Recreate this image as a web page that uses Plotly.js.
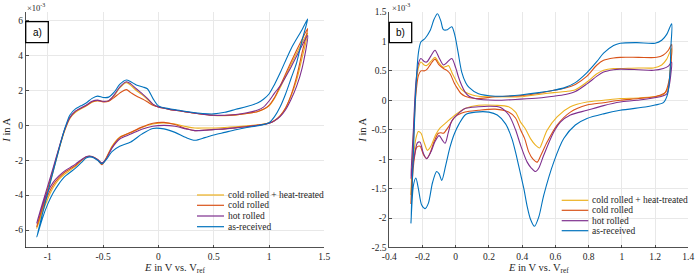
<!DOCTYPE html>
<html>
<head>
<meta charset="utf-8">
<script src="https://cdn.plot.ly/plotly-3.0.1.min.js"></script>
<style>html,body{margin:0;padding:0;background:#fff;}#chart{width:695px;height:275px;}</style>
</head>
<body>
<div id="chart"></div>
<script>
// ---------- DATA (current I in units of 1e-3 A, potential E in V vs. Vref) ----------
const seriesNames  = ['cold rolled + heat-treated', 'cold rolled', 'hot rolled', 'as-received'];
const seriesColors = ['#EDB120', '#D95319', '#7E2F8E', '#0072BD'];

// Panel a) – common potential grid (forward sweep then reverse sweep)
const aE = [-1.10,-1.05,-1.00,-0.95,-0.90,-0.85,-0.80,-0.75,-0.70,-0.65,-0.60,-0.55,-0.50,-0.45,-0.40,-0.35,-0.29,-0.25,-0.20,-0.14,-0.10,-0.05,0.00,0.10,0.20,0.30,0.40,0.50,0.60,0.70,0.80,0.90,0.95,1.00,1.05,1.10,1.20,1.30,1.35,
            1.30,1.25,1.20,1.15,1.10,1.05,1.00,0.90,0.80,0.70,0.60,0.50,0.42,0.33,0.25,0.15,0.05,-0.05,-0.15,-0.25,-0.35,-0.42,-0.47,-0.51,-0.55,-0.60,-0.65,-0.70,-0.75,-0.80,-0.85,-0.90,-0.95,-1.00,-1.05,-1.10];
const aHeatTreatedI = [-5.9,-4.8,-3.7,-2.6,-1.4,-0.35,0.4,0.75,0.95,1.12,1.33,1.42,1.37,1.4,1.7,2.15,2.45,2.3,2.0,1.72,1.5,1.2,1.05,0.92,0.82,0.72,0.64,0.57,0.56,0.6,0.68,0.8,0.92,1.12,1.55,2.15,3.5,4.75,5.3,
            3.9,2.6,1.7,1.0,0.55,0.27,0.13,0.03,-0.03,-0.08,-0.12,-0.15,-0.15,-0.15,-0.07,0.08,0.14,0.08,-0.12,-0.42,-0.68,-1.2,-1.85,-2.18,-1.95,-1.78,-1.8,-2.05,-2.35,-2.58,-2.8,-3.1,-3.55,-4.2,-5.0,-5.9];
const aColdRolledI = [-5.8,-4.7,-3.6,-2.5,-1.35,-0.3,0.45,0.8,0.98,1.15,1.35,1.42,1.35,1.38,1.6,1.85,2.05,1.88,1.68,1.5,1.35,1.15,1.05,0.92,0.82,0.72,0.64,0.58,0.57,0.6,0.68,0.8,0.92,1.15,1.6,2.25,3.65,4.95,5.55,
            4.2,2.8,1.75,1.0,0.55,0.28,0.13,0.02,-0.06,-0.13,-0.2,-0.23,-0.27,-0.3,-0.18,0.05,0.17,0.12,-0.1,-0.4,-0.7,-1.25,-1.85,-2.25,-1.98,-1.8,-1.8,-2.02,-2.3,-2.5,-2.7,-3.0,-3.4,-4.0,-4.8,-5.8];
const aHotRolledI = [-5.6,-4.5,-3.45,-2.4,-1.3,-0.28,0.45,0.82,1.0,1.17,1.38,1.45,1.38,1.42,1.75,2.2,2.5,2.38,2.1,1.78,1.55,1.22,1.05,0.92,0.82,0.72,0.64,0.58,0.58,0.62,0.72,0.88,1.05,1.4,1.85,2.25,3.35,4.6,5.15,
            3.3,2.25,1.5,0.9,0.5,0.26,0.12,0.0,-0.08,-0.14,-0.2,-0.24,-0.28,-0.3,-0.2,-0.05,0.0,-0.05,-0.22,-0.5,-0.78,-1.3,-1.9,-2.15,-1.95,-1.78,-1.78,-1.98,-2.22,-2.42,-2.62,-2.9,-3.25,-3.8,-4.6,-5.6];
const aAsReceivedI = [-6.4,-5.1,-3.85,-2.6,-1.4,-0.25,0.6,0.95,1.12,1.3,1.55,1.68,1.6,1.62,1.9,2.35,2.6,2.5,2.32,2.2,2.1,1.55,1.12,0.95,0.85,0.75,0.68,0.66,0.75,0.92,1.08,1.3,1.5,1.8,2.35,3.0,4.4,5.5,6.1,
            4.9,3.6,2.7,1.8,1.05,0.5,0.15,-0.02,-0.12,-0.25,-0.4,-0.55,-0.7,-0.85,-0.7,-0.4,-0.2,-0.18,-0.5,-0.95,-1.2,-1.5,-1.95,-2.2,-2.0,-1.82,-1.85,-2.15,-2.45,-2.7,-2.95,-3.35,-3.85,-4.5,-5.35,-6.4];

// Panel b) – [E, I] pairs
const bHeatTreated = [[-0.27,-1.6],[-0.255,-0.6],[-0.24,0.2],[-0.225,0.55],[-0.21,0.65],[-0.19,0.6],[-0.175,0.59],[-0.15,0.66],[-0.125,0.73],[-0.1,0.63],[-0.074,0.56],[-0.055,0.58],[-0.044,0.59],[-0.02,0.45],[0.006,0.31],[0.03,0.2],[0.056,0.14],[0.1,0.09],[0.137,0.07],[0.237,0.06],[0.39,0.06],[0.5,0.1],[0.59,0.13],[0.66,0.15],[0.72,0.18],[0.79,0.31],[0.85,0.45],[0.89,0.51],[0.95,0.54],[0.99,0.54],[1.1,0.55],[1.19,0.55],[1.24,0.6],[1.27,0.7],[1.3,0.88],
  [1.29,0.5],[1.28,0.23],[1.25,0.1],[1.19,0.06],[1.1,0.04],[0.99,0.03],[0.89,0.0],[0.79,-0.03],[0.69,-0.11],[0.61,-0.28],[0.55,-0.51],[0.52,-0.72],[0.505,-0.81],[0.48,-0.76],[0.45,-0.65],[0.418,-0.48],[0.39,-0.37],[0.36,-0.2],[0.318,-0.11],[0.237,-0.085],[0.137,-0.085],[0.056,-0.14],[-0.004,-0.25],[-0.054,-0.37],[-0.094,-0.47],[-0.12,-0.58],[-0.15,-0.78],[-0.17,-0.85],[-0.19,-0.72],[-0.209,-0.56],[-0.225,-0.53],[-0.24,-0.65],[-0.25,-0.85],[-0.26,-1.1],[-0.27,-1.6]];
const bColdRolled = [[-0.27,-1.75],[-0.255,-0.7],[-0.24,0.1],[-0.225,0.42],[-0.21,0.5],[-0.19,0.5],[-0.175,0.52],[-0.15,0.62],[-0.125,0.7],[-0.1,0.6],[-0.074,0.54],[-0.05,0.5],[-0.034,0.45],[-0.01,0.3],[0.006,0.22],[0.03,0.12],[0.056,0.07],[0.117,0.03],[0.237,0.06],[0.39,0.08],[0.5,0.12],[0.59,0.17],[0.66,0.21],[0.72,0.27],[0.79,0.41],[0.85,0.6],[0.89,0.68],[0.95,0.72],[0.99,0.73],[1.1,0.73],[1.21,0.73],[1.25,0.77],[1.28,0.85],[1.3,0.95],
  [1.295,0.6],[1.285,0.35],[1.26,0.13],[1.21,0.07],[1.1,0.03],[0.99,0.0],[0.89,-0.04],[0.79,-0.08],[0.69,-0.2],[0.61,-0.42],[0.55,-0.71],[0.51,-0.95],[0.49,-1.05],[0.465,-1.0],[0.44,-0.88],[0.415,-0.65],[0.39,-0.5],[0.36,-0.3],[0.318,-0.2],[0.237,-0.15],[0.137,-0.17],[0.056,-0.2],[-0.004,-0.28],[-0.044,-0.45],[-0.074,-0.56],[-0.09,-0.55],[-0.105,-0.56],[-0.13,-0.7],[-0.155,-0.9],[-0.175,-0.99],[-0.195,-0.92],[-0.215,-0.78],[-0.235,-0.8],[-0.25,-1.0],[-0.26,-1.3],[-0.27,-1.75]];
const bHotRolled = [[-0.27,-1.33],[-0.255,-0.5],[-0.24,0.3],[-0.225,0.62],[-0.21,0.71],[-0.19,0.66],[-0.175,0.65],[-0.15,0.75],[-0.125,0.85],[-0.1,0.72],[-0.074,0.6],[-0.05,0.65],[-0.024,0.71],[0.0,0.55],[0.016,0.4],[0.036,0.25],[0.056,0.14],[0.08,0.07],[0.117,0.03],[0.237,0.0],[0.39,0.02],[0.5,0.04],[0.59,0.07],[0.66,0.1],[0.72,0.15],[0.79,0.28],[0.85,0.41],[0.89,0.48],[0.95,0.52],[0.99,0.53],[1.1,0.52],[1.19,0.51],[1.25,0.54],[1.28,0.58],[1.3,0.65],
  [1.295,0.45],[1.285,0.25],[1.27,0.11],[1.23,0.06],[1.09,0.0],[0.99,-0.03],[0.89,-0.09],[0.79,-0.17],[0.69,-0.25],[0.63,-0.37],[0.59,-0.54],[0.53,-0.93],[0.5,-1.15],[0.48,-1.21],[0.455,-1.15],[0.43,-1.05],[0.39,-0.76],[0.36,-0.5],[0.32,-0.25],[0.27,-0.12],[0.2,-0.1],[0.137,-0.11],[0.056,-0.14],[0.006,-0.25],[-0.024,-0.35],[-0.045,-0.55],[-0.064,-0.73],[-0.08,-0.68],[-0.1,-0.6],[-0.125,-0.7],[-0.15,-0.88],[-0.175,-0.99],[-0.195,-0.9],[-0.215,-0.71],[-0.23,-0.72],[-0.245,-0.88],[-0.258,-1.1],[-0.27,-1.33]];
const bAsReceived = [[-0.27,-2.09],[-0.255,-0.9],[-0.24,0.2],[-0.225,0.8],[-0.21,0.99],[-0.185,1.05],[-0.155,1.18],[-0.13,1.38],[-0.11,1.47],[-0.09,1.35],[-0.074,1.2],[-0.05,1.2],[-0.024,1.25],[-0.005,1.1],[0.015,0.8],[0.036,0.48],[0.06,0.3],[0.08,0.22],[0.137,0.11],[0.237,0.07],[0.33,0.075],[0.39,0.09],[0.5,0.13],[0.59,0.17],[0.66,0.22],[0.72,0.3],[0.79,0.47],[0.85,0.66],[0.89,0.8],[0.95,0.93],[0.99,0.97],[1.09,0.98],[1.2,0.97],[1.24,1.02],[1.27,1.12],[1.3,1.3],
  [1.295,0.9],[1.29,0.48],[1.275,0.1],[1.25,-0.04],[1.2,-0.08],[1.15,-0.11],[0.99,-0.17],[0.89,-0.23],[0.79,-0.31],[0.72,-0.42],[0.65,-0.65],[0.59,-1.05],[0.53,-1.61],[0.5,-1.98],[0.474,-2.14],[0.45,-2.02],[0.43,-1.8],[0.41,-1.5],[0.39,-1.25],[0.378,-1.1],[0.36,-0.88],[0.338,-0.65],[0.3,-0.4],[0.25,-0.25],[0.2,-0.2],[0.12,-0.2],[0.06,-0.24],[0.02,-0.4],[-0.01,-0.58],[-0.035,-0.8],[-0.06,-1.1],[-0.084,-1.36],[-0.1,-1.25],[-0.115,-1.21],[-0.14,-1.4],[-0.165,-1.75],[-0.185,-1.84],[-0.205,-1.78],[-0.225,-1.5],[-0.24,-1.32],[-0.255,-1.45],[-0.27,-2.09]];

// Tick labels
const aXTicks = [-1, -0.5, 0, 0.5, 1, 1.5];
const aXTickText = ['-1', '-0.5', '0', '0.5', '1', '1.5'];
const aYTicks = [-6, -4, -2, 0, 2, 4, 6];
const aYTickText = ['-6', '-4', '-2', '0', '2', '4', '6'];
const bXTicks = [-0.4, -0.2, 0, 0.2, 0.4, 0.6, 0.8, 1, 1.2, 1.4];
const bXTickText = ['-0.4', '-0.2', '0', '0.2', '0.4', '0.6', '0.8', '1', '1.2', '1.4'];
const bYTicks = [-2.5, -2, -1.5, -1, -0.5, 0, 0.5, 1, 1.5];
const bYTickText = ['-2.5', '-2', '-1.5', '-1', '-0.5', '0', '0.5', '1', '1.5'];

// ---------- BUILD ----------
const W = 695, H = 275;
const px = v => v / W, py = v => 1 - v / H;
const SERIF = 'Liberation Serif';
const INK = '#262626';

const aSeries = [aHeatTreatedI, aColdRolledI, aHotRolledI, aAsReceivedI];
const bSeries = [bHeatTreated, bColdRolled, bHotRolled, bAsReceived];

const traces = [];
aSeries.forEach((I, k) => traces.push({
  x: aE, y: I, xaxis: 'x', yaxis: 'y', type: 'scatter', mode: 'lines',
  line: {color: seriesColors[k], width: 1.1, shape: 'spline', smoothing: 0.8},
  name: seriesNames[k], showlegend: false, hoverinfo: 'skip'
}));
bSeries.forEach((pts, k) => traces.push({
  x: pts.map(p => p[0]), y: pts.map(p => p[1]), xaxis: 'x2', yaxis: 'y2', type: 'scatter', mode: 'lines',
  line: {color: seriesColors[k], width: 1.1, shape: 'spline', smoothing: 0.8},
  name: seriesNames[k], showlegend: false, hoverinfo: 'skip'
}));

function axis(extra) {
  return Object.assign({
    showgrid: true, gridcolor: '#e8e8e8', gridwidth: 1, zeroline: false,
    showline: true, linecolor: INK, linewidth: 0.8, mirror: false,
    ticks: 'inside', ticklen: 3, tickcolor: INK, tickwidth: 0.8,
    tickfont: {family: SERIF, size: 9.5, color: INK}, tickmode: 'array',
    automargin: false, fixedrange: true
  }, extra);
}
const xTitle = {text: '<i>E</i> in V vs. V<sub>ref</sub>', font: {family: SERIF, size: 10.5, color: INK}, standoff: 2};
const yTitle = {text: '<i>I</i> in A', font: {family: SERIF, size: 10.5, color: INK}, standoff: 2};

const yDom = [1 - 247.5 / H, 1 - 12 / H];
const layout = {
  width: W, height: H, margin: {l: 0, r: 0, t: 0, b: 0},
  font: {family: SERIF, color: INK},
  paper_bgcolor: '#ffffff', plot_bgcolor: '#ffffff', showlegend: false,
  xaxis: axis({domain: [px(25.7), px(324.3)], range: [-1.2, 1.5], tickvals: aXTicks, ticktext: aXTickText, anchor: 'y', title: xTitle}),
  yaxis: axis({domain: yDom, range: [-7, 6.5], tickvals: aYTicks, ticktext: aYTickText, anchor: 'x', title: yTitle}),
  xaxis2: axis({domain: [px(389.3), px(688.3)], range: [-0.4, 1.4], tickvals: bXTicks, ticktext: bXTickText, anchor: 'y2', title: xTitle}),
  yaxis2: axis({domain: yDom, range: [-2.5, 1.5], tickvals: bYTicks, ticktext: bYTickText, anchor: 'x2', title: yTitle}),
  shapes: [], annotations: []
};

// exponent labels
[[25, 7], [389.5, 7]].forEach(p => layout.annotations.push({
  xref: 'paper', yref: 'paper', x: px(p[0]), y: py(p[1]), xanchor: 'left', yanchor: 'middle',
  text: '×10<sup>-3</sup>', showarrow: false, font: {family: SERIF, size: 8.5, color: INK}
}));
// panel letter boxes
[['a)', 25.7, 21.7, 48.3, 42.7], ['b)', 389.3, 22.3, 411.7, 42.7]].forEach(b => {
  layout.shapes.push({type: 'rect', xref: 'paper', yref: 'paper', x0: px(b[1]), x1: px(b[3]), y0: py(b[4]), y1: py(b[2]),
    line: {color: '#000', width: 1.3}, fillcolor: '#fff', layer: 'above'});
  layout.annotations.push({xref: 'paper', yref: 'paper', x: px((b[1] + b[3]) / 2), y: py((b[2] + b[4]) / 2),
    xanchor: 'center', yanchor: 'middle', text: b[0], showarrow: false,
    font: {family: 'Liberation Sans', size: 10, color: '#000'}});
});
// legends (manual, MATLAB-style compact rows)
const legends = [{x0: 197, x1: 224, tx: 226, rows: [195, 205.3, 216, 226.7]},
                 {x0: 561.7, x1: 588.3, tx: 590, rows: [200.3, 210.3, 220.7, 230.7]}];
legends.forEach(L => {
  seriesNames.forEach((nm, k) => {
    layout.shapes.push({type: 'line', xref: 'paper', yref: 'paper', x0: px(L.x0), x1: px(L.x1), y0: py(L.rows[k]), y1: py(L.rows[k]),
      line: {color: seriesColors[k], width: 1.2}, layer: 'above'});
    layout.annotations.push({xref: 'paper', yref: 'paper', x: px(L.tx), y: py(L.rows[k]), xanchor: 'left', yanchor: 'middle',
      text: nm, showarrow: false, font: {family: SERIF, size: 9.5, color: INK}});
  });
});

Plotly.newPlot('chart', traces, layout, {staticPlot: true, displayModeBar: false});
</script>
</body>
</html>
